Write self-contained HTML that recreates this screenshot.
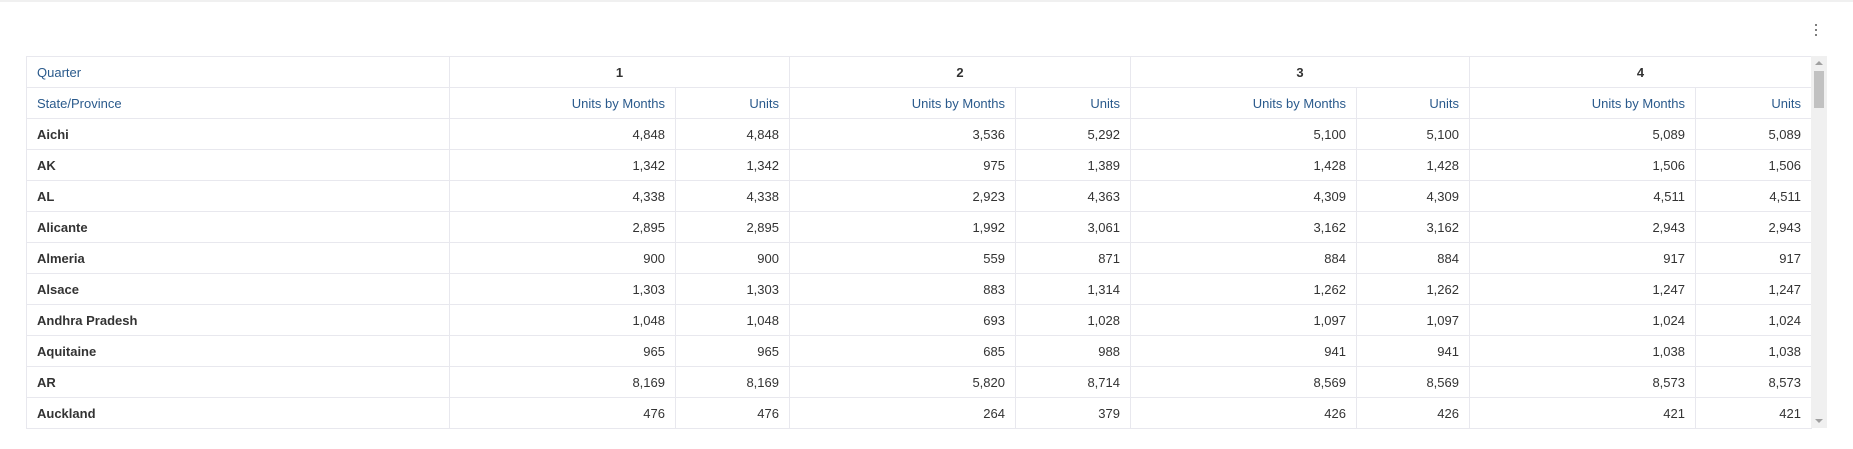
<!DOCTYPE html>
<html><head><meta charset="utf-8">
<style>
body{margin:0;width:1853px;height:449px;background:#fff;font-family:"Liberation Sans",sans-serif;overflow:hidden;position:relative}
.topline{position:absolute;left:0;top:0;width:1853px;height:2px;background:#f0f0f0}
.kebab{position:absolute;left:1811px;top:22px;width:10px;height:20px}
.kebab i{display:block;width:2px;height:2px;background:#555;border-radius:50%;margin:2px auto 3px}
table{position:absolute;left:26px;top:56px;border-collapse:collapse;table-layout:fixed}
td{height:30px;border:1px solid #e8e8ee;font-size:13px;color:#333;padding:0 10px;text-align:right;white-space:nowrap;overflow:hidden}
td.st{text-align:left;font-weight:bold;color:#333}
tr.h td{color:#2a5a8c}
tr.h td.q{text-align:center;color:#333;font-weight:bold}
.sb{position:absolute;left:1811px;top:56px;width:16px;height:372px;background:#f0f0f0}
.sb .th{position:absolute;left:3px;top:15px;width:10px;height:37px;background:#c1c1c1}
.sb .up{position:absolute;left:4px;top:5px;border:4px solid transparent;border-bottom:4px solid #a0a0a0;border-top:none}
.sb .dn{position:absolute;left:4px;bottom:5px;border:4px solid transparent;border-top:4px solid #a0a0a0;border-bottom:none}
</style></head><body>
<div class="topline"></div>
<div class="kebab"><i></i><i></i><i></i></div>
<table>
<colgroup><col style="width:423px"><col style="width:226px"><col style="width:114px"><col style="width:226px"><col style="width:115px"><col style="width:226px"><col style="width:113px"><col style="width:226px"><col style="width:116px"></colgroup>
<tbody id="tb">
<tr class="h"><td class="st" style="font-weight:normal;color:#2a5a8c">Quarter</td><td class="q" colspan="2">1</td><td class="q" colspan="2">2</td><td class="q" colspan="2">3</td><td class="q" colspan="2">4</td></tr>
<tr class="h"><td class="st" style="font-weight:normal;color:#2a5a8c">State/Province</td><td>Units by Months</td><td>Units</td><td>Units by Months</td><td>Units</td><td>Units by Months</td><td>Units</td><td>Units by Months</td><td>Units</td></tr>
</tbody></table>
<div class="sb"><div class="up"></div><div class="th"></div><div class="dn"></div></div>
<script>
const states=["Aichi","AK","AL","Alicante","Almeria","Alsace","Andhra Pradesh","Aquitaine","AR","Auckland"];
const q1=[[4848,4848],[1342,1342],[4338,4338],[2895,2895],[900,900],[1303,1303],[1048,1048],[965,965],[8169,8169],[476,476]];
const q2=[[3536,5292],[975,1389],[2923,4363],[1992,3061],[559,871],[883,1314],[693,1028],[685,988],[5820,8714],[264,379]];
const q3=[[5100,5100],[1428,1428],[4309,4309],[3162,3162],[884,884],[1262,1262],[1097,1097],[941,941],[8569,8569],[426,426]];
const q4=[[5089,5089],[1506,1506],[4511,4511],[2943,2943],[917,917],[1247,1247],[1024,1024],[1038,1038],[8573,8573],[421,421]];
const tb=document.getElementById('tb');
states.forEach((s,i)=>{
  const tr=document.createElement('tr');
  
  
  const c=document.createElement('td');c.className='st';c.textContent=s;tr.appendChild(c);
  [q1,q2,q3,q4].forEach(q=>q[i].forEach(v=>{
    const td=document.createElement('td');td.textContent=v.toLocaleString('en-US');tr.appendChild(td);
  }));
  tb.appendChild(tr);
});
</script>
</body></html>
